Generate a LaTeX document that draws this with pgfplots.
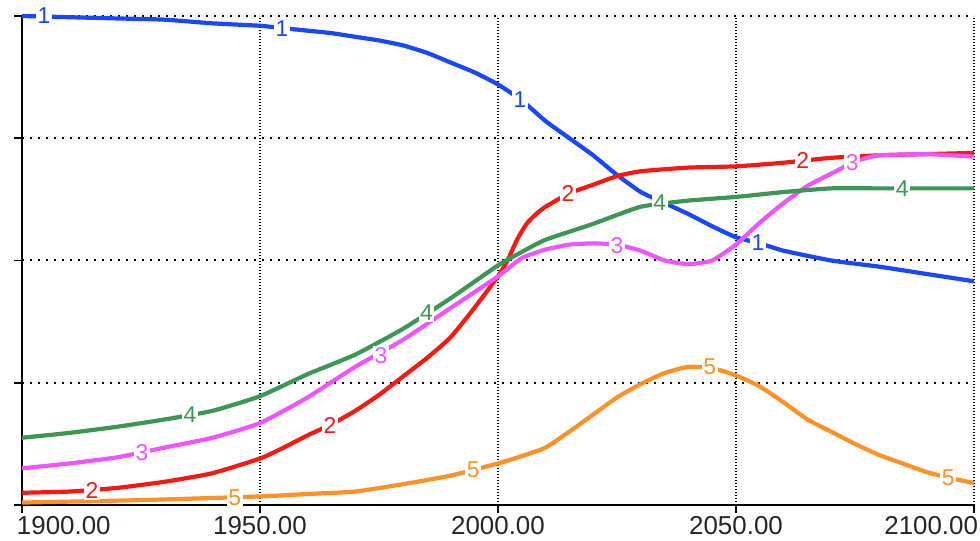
\documentclass[border=0pt]{standalone}
\usepackage{pgfplots}
\pgfplotsset{compat=1.18}
\usepackage{fontspec}
\setmainfont{Liberation Sans}
\definecolor{c1}{RGB}{25,70,255}
\definecolor{c2}{RGB}{245,25,20}
\definecolor{c3}{RGB}{238,85,255}
\definecolor{c4}{RGB}{60,150,85}
\definecolor{c5}{RGB}{255,145,40}
\pgfplotsset{
  lab/.style={draw=none, mark=none, nodes near coords={#1}, nodes near coords align=center,
    every node near coord/.append style={anchor=center, fill=white, inner sep=1.5bp,
      font=\fontsize{23}{23}\selectfont}},
  ln/.style={line width=4.2bp, smooth, tension=0.3}
}
\begin{document}
\begin{tikzpicture}
\begin{axis}[name=ax, scale only axis, width=952bp, height=489bp,
  xmin=1900, xmax=2100, ymin=0, ymax=4, clip=false,
  axis x line=bottom, axis y line=left,
  axis line style={-, line width=1.8bp, black},
  xtick={1900,1950,2000,2050,2100}, ytick={0,1,2,3,4}, yticklabels={},
  xticklabels={\makebox[0pt][l]{\hspace*{-5bp}1900.00},1950.00,2000.00,2050.00,\makebox[0pt][r]{2100.00\hspace*{-4bp}}},
  tick align=outside, major tick length=8bp, tick style={line width=1.8bp, black},
  grid=major,
  x grid style={black, line width=1.6bp, dash pattern=on 1.4bp off 1.6bp},
  y grid style={black, line width=2bp, dash pattern=on 2bp off 6bp},
  xticklabel style={font=\fontsize{26}{26}\selectfont, anchor=north, text=black!85},
]
\addplot[c1, ln] coordinates {(1900,4.00)(1910,3.99)(1920,3.98)(1930,3.97)(1940,3.94)(1950,3.92)(1955,3.90)(1960,3.88)(1965,3.86)(1970,3.83)(1975,3.80)(1980,3.76)(1985,3.70)(1990,3.62)(1995,3.54)(2000,3.44)(2005,3.31)(2010,3.14)(2015,3.00)(2020,2.86)(2025,2.70)(2030,2.56)(2035,2.47)(2040,2.38)(2045,2.28)(2050,2.19)(2055,2.14)(2060,2.08)(2070,2.00)(2080,1.95)(2090,1.89)(2100,1.83)};
\addplot[lab=1, every node near coord/.append style={text=c1}] coordinates {(1904.6,4.00)(1954.6,3.90)(2004.6,3.32)(2054.6,2.15)};
\addplot[c2, ln] coordinates {(1900,0.10)(1910,0.11)(1920,0.14)(1930,0.19)(1940,0.26)(1950,0.38)(1955,0.47)(1960,0.57)(1965,0.66)(1970,0.77)(1975,0.90)(1980,1.05)(1985,1.20)(1990,1.37)(1995,1.61)(2000,1.87)(2002,2.00)(2004,2.17)(2006,2.30)(2008,2.38)(2010,2.44)(2015,2.55)(2020,2.62)(2025,2.69)(2030,2.73)(2040,2.76)(2050,2.77)(2060,2.80)(2070,2.84)(2080,2.86)(2090,2.87)(2100,2.88)};
\addplot[lab=2, every node near coord/.append style={text=c2}] coordinates {(1914.7,0.12)(1964.7,0.65)(2014.7,2.55)(2064,2.82)};
\addplot[c3, ln] coordinates {(1900,0.30)(1910,0.34)(1920,0.39)(1930,0.47)(1940,0.55)(1950,0.67)(1960,0.88)(1970,1.13)(1980,1.35)(1990,1.61)(2000,1.87)(2005,2.02)(2010,2.09)(2015,2.13)(2020,2.14)(2025,2.13)(2030,2.08)(2035,2.00)(2040,1.97)(2045,2.00)(2050,2.13)(2055,2.31)(2060,2.47)(2065,2.61)(2070,2.71)(2075,2.81)(2080,2.86)(2090,2.87)(2100,2.85)};
\addplot[lab=3, every node near coord/.append style={text=c3}] coordinates {(1925.2,0.43)(1975.4,1.22)(2025,2.12)(2074.4,2.80)};
\addplot[c4, ln] coordinates {(1900,0.55)(1910,0.59)(1920,0.64)(1930,0.70)(1940,0.77)(1950,0.89)(1960,1.07)(1970,1.23)(1980,1.44)(1990,1.69)(2000,1.96)(2005,2.07)(2010,2.17)(2020,2.30)(2030,2.44)(2040,2.49)(2050,2.52)(2060,2.56)(2070,2.59)(2080,2.59)(2100,2.59)};
\addplot[lab=4, every node near coord/.append style={text=c4}] coordinates {(1935.3,0.74)(1985,1.57)(2034,2.47)(2084.9,2.59)};
\addplot[c5, ln] coordinates {(1900,0.02)(1925,0.04)(1950,0.07)(1960,0.09)(1970,0.11)(1980,0.17)(1990,0.24)(2000,0.34)(2005,0.40)(2010,0.47)(2015,0.60)(2020,0.74)(2025,0.88)(2030,0.99)(2035,1.08)(2040,1.13)(2045,1.12)(2050,1.06)(2055,0.97)(2060,0.84)(2065,0.70)(2070,0.60)(2075,0.50)(2080,0.41)(2085,0.34)(2090,0.27)(2095,0.22)(2100,0.18)};
\addplot[lab=5, every node near coord/.append style={text=c5}] coordinates {(1944.7,0.06)(1994.8,0.29)(2044.5,1.13)(2094.6,0.22)};
\end{axis}
\pgfresetboundingbox
\useasboundingbox ([xshift=-22bp,yshift=-36bp]ax.south west) rectangle ([xshift=6bp,yshift=16bp]ax.north east);
\end{tikzpicture}
\end{document}
